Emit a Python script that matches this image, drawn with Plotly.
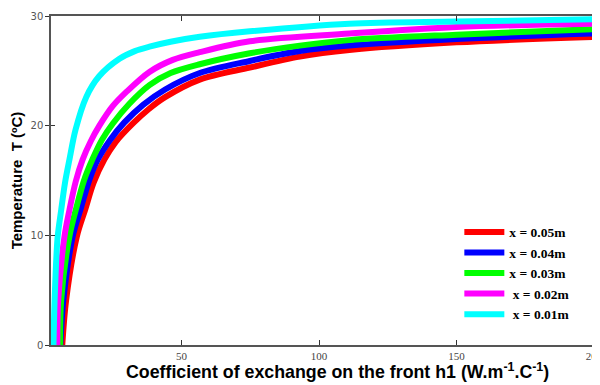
import plotly.graph_objects as go

# Series (h in W.m-1.C-1, T in degC)
labels = ["x = 0.05m", "x = 0.04m", "x = 0.03m", " x = 0.02m", " x = 0.01m"]
colors = ["#ff0000", "#0000ff", "#00ff00", "#ff00ff", "#00ffff"]

h_005 = [6.6, 8.0, 11.9, 15.0, 18, 21.9, 26, 32.3, 38, 44, 56.6, 74.8, 93, 111, 150, 200]
T_005 = [0, 4.1, 9.9, 12.4, 14.8, 16.9, 18.5, 20.2, 21.5, 22.6, 24.2, 25.3, 26.3, 26.9, 27.6, 28.1]

h_004 = [5.9, 7.0, 10.4, 13.5, 16.5, 19.5, 24, 29.2, 36, 44, 56.6, 74.8, 93, 111, 150, 200]
T_004 = [0, 4.1, 9.9, 12.6, 15.1, 16.9, 18.7, 20.3, 21.9, 23.3, 24.8, 25.9, 26.8, 27.3, 27.9, 28.4]

h_003 = [5.8, 6.2, 9.2, 11.6, 14.5, 17.7, 21, 25, 31, 38.3, 46, 56.6, 74.8, 93, 111, 150, 200]
T_003 = [0, 4.1, 9.9, 12.4, 15.0, 17.0, 18.7, 20.2, 22.0, 23.7, 24.8, 25.6, 26.6, 27.3, 27.8, 28.3, 28.8]

h_002 = [4.8, 5.1, 7.4, 9.2, 11.5, 14.0, 17, 20.1, 25, 30, 38.3, 46.8, 56.6, 74.8, 111, 150, 200]
T_002 = [0, 4.0, 9.9, 12.3, 14.9, 16.9, 18.6, 20.0, 21.8, 23.1, 24.9, 26.0, 26.7, 27.7, 28.4, 29.0, 29.3]

h_001 = [3.4, 3.8, 4.9, 6.2, 7.6, 9.2, 11.4, 15.3, 20, 27.4, 33, 38.3, 46, 56.6, 74.8, 111, 150, 200]
T_001 = [0, 4.0, 9.8, 12.3, 14.8, 16.9, 19.6, 22.6, 24.5, 26.1, 26.8, 27.2, 27.65, 28.1, 28.6, 29.3, 29.5, 29.7]

xs = [h_005, h_004, h_003, h_002, h_001]
ys = [T_005, T_004, T_003, T_002, T_001]

x_ticks = [50, 100, 150, 200]
y_ticks = [0, 10, 20, 30]

x_title = "<b>Coefficient of exchange on the front h1 (W.m<sup>-1</sup>.C<sup>-1</sup>)</b>"
y_title = "<b>Temperature  T (ºC)</b>"

fig = go.Figure()
for hx, ty, lab, col in zip(xs, ys, labels, colors):
    fig.add_trace(go.Scatter(x=hx, y=ty, mode="lines", name=lab,
                             line=dict(color=col, width=6, shape="spline", smoothing=0.9)))

# the page body adds an 8 px margin, so the figure is 8 px smaller each way
fig.update_layout(
    width=592, height=377,
    margin=dict(l=43, r=6, t=8, b=40, autoexpand=False),
    paper_bgcolor="white", plot_bgcolor="white",
    showlegend=True,
    legend=dict(x=0.752, y=0.39, xanchor="left", yanchor="top",
                bgcolor="rgba(0,0,0,0)", borderwidth=0,
                font=dict(family="Liberation Serif", size=13.5, color="black", weight="bold"),
                itemwidth=40, tracegroupgap=0),
    xaxis=dict(range=[2.5, 200], tickvals=x_ticks, ticktext=[str(v) for v in x_ticks],
               ticks="inside", ticklen=5, tickcolor="#333", mirror="ticks",
               ticklabeloverflow="allow", automargin=False,
               showline=True, linecolor="#555", linewidth=1.5, showgrid=False, zeroline=False,
               tickfont=dict(family="Liberation Serif", size=11, color="#444")),
    yaxis=dict(range=[0, 30], tickvals=y_ticks, ticks="outside", ticklen=4, tickcolor="#333",
               mirror=True, showline=True, linecolor="#555", linewidth=1.5, automargin=False,
               showgrid=False, zeroline=False,
               tickfont=dict(family="DejaVu Sans", size=10, color="#555"),
               title=dict(text=y_title,
                          font=dict(family="Liberation Sans", size=15, color="black"), standoff=12)),
    yaxis2=dict(range=[0, 30], tickvals=y_ticks, overlaying="y", side="left", anchor="x",
                ticks="inside", ticklen=4, tickcolor="#333", showticklabels=False,
                showline=False, showgrid=False, zeroline=False),
)
fig.add_trace(go.Scatter(x=[None], y=[None], yaxis="y2", showlegend=False, hoverinfo="skip"))

fig.add_annotation(text=x_title, xref="paper", yref="paper", x=0.527, y=-0.08,
                   xanchor="center", yanchor="middle", showarrow=False,
                   font=dict(family="Liberation Sans", size=17.8, color="black"))

fig.write_html("out.html")
